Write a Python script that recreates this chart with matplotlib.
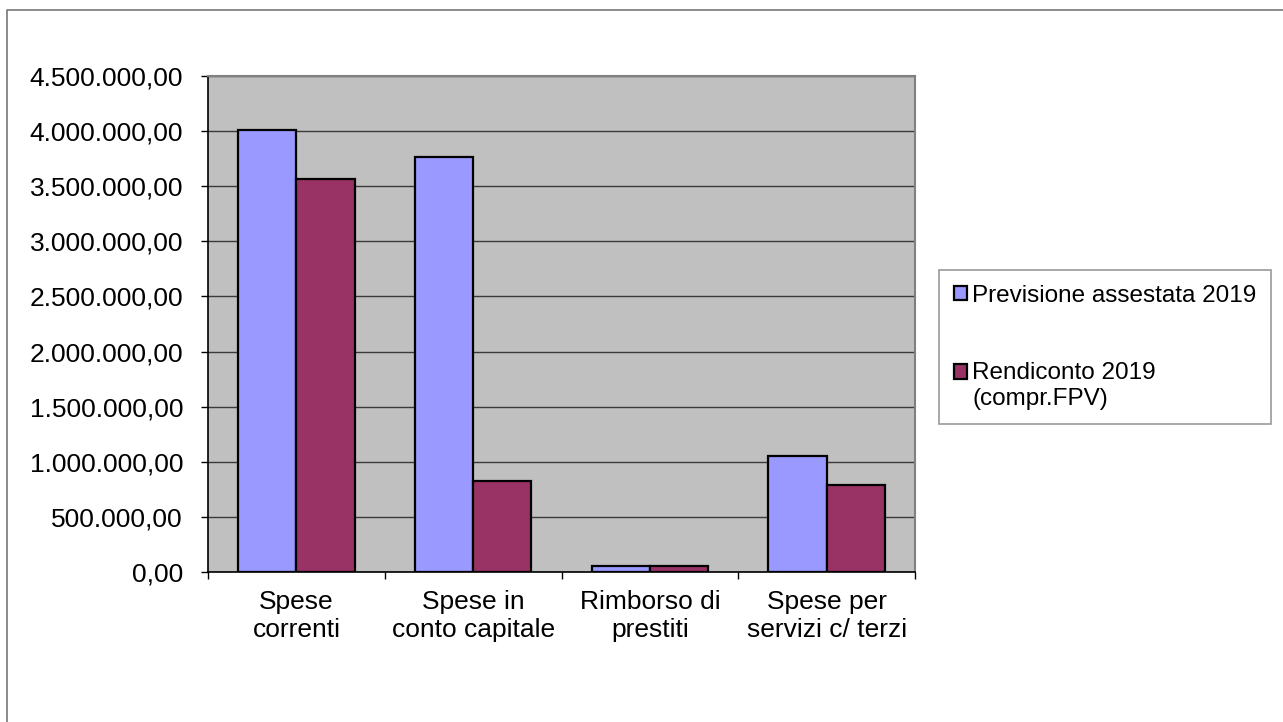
import matplotlib
matplotlib.use("Agg")
import matplotlib.pyplot as plt
import numpy as np
from matplotlib.legend_handler import HandlerPatch
from matplotlib.lines import Line2D
from matplotlib.patches import Rectangle
from matplotlib.ticker import FixedLocator, FuncFormatter, MultipleLocator

plt.rcParams["font.family"] = ["Liberation Sans", "DejaVu Sans"]

categories = ["Spese\ncorrenti", "Spese in\nconto capitale", "Rimborso di\nprestiti",
              "Spese per\nservizi c/ terzi"]
series_names = ["Previsione assestata 2019", "Rendiconto 2019\n(compr.FPV)"]
previsione = [4011000, 3763000, 58000, 1050000]
rendiconto = [3563000, 823000, 56000, 793000]

colors = ["#9999FF", "#993366"]

W, H = 1283, 722
fig = plt.figure(figsize=(W / 100, H / 100), dpi=100)
fig.set_facecolor("white")
ax = fig.add_axes([208 / W, 1 - 572 / H, (915 - 208) / W, (572 - 76) / H])
ax.set_facecolor("#C0C0C0")

x = np.arange(len(categories))
width = 0.33
bars = []
for i, vals in enumerate([previsione, rendiconto]):
    b = ax.bar(x + (i - 0.5) * width, vals, width, color=colors[i],
               edgecolor="black", linewidth=1.6, label=series_names[i], zorder=3)
    bars.append(b)

ax.set_xlim(-0.5, len(categories) - 0.5)
ax.set_ylim(0, 4500000)

# y axis
ax.yaxis.set_major_locator(MultipleLocator(500000))
ax.yaxis.set_major_formatter(FuncFormatter(
    lambda v, _: f"{v:,.2f}".replace(",", "X").replace(".", ",").replace("X", ".")))
ax.grid(axis="y", color="#3a3a3a", linewidth=1.0, zorder=1)
ax.tick_params(axis="y", length=5, width=1, color="black", pad=13, labelsize=19)

# x axis: ticks at boundaries, labels at centers
ax.xaxis.set_major_locator(FixedLocator(np.arange(len(categories) + 1) - 0.5))
ax.xaxis.set_major_formatter(FuncFormatter(lambda v, _: ""))
ax.xaxis.set_minor_locator(FixedLocator(x))
ax.set_xticklabels(categories, minor=True)
ax.tick_params(axis="x", which="major", length=5, width=1, color="black")
ax.tick_params(axis="x", which="minor", length=0, pad=13, labelsize=19)

for s in ["top", "right"]:
    ax.spines[s].set_color("#808080")
    ax.spines[s].set_linewidth(1.5)
for s in ["left", "bottom"]:
    ax.spines[s].set_color("black")
    ax.spines[s].set_linewidth(1.2)


# legend marker next to the first line of a two-line label
def top_line_box(legend, orig_handle, xdescent, ydescent, width, height, fontsize):
    return Rectangle((-xdescent, -ydescent + 0.62 * fontsize), width, height)


handles = [b.patches[0] for b in bars]
leg = fig.legend(handles=handles, labels=series_names, loc="upper left",
                 bbox_to_anchor=(939 / W, 1 - 270 / H), borderaxespad=0,
                 fontsize=17.5, frameon=True, fancybox=False, edgecolor="#808080",
                 handlelength=0.57, handleheight=0.57, handletextpad=0.2,
                 labelspacing=2.3, borderpad=0.6,
                 handler_map={handles[1]: HandlerPatch(patch_func=top_line_box)})
leg.get_frame().set_linewidth(1.2)

# outer chart frame
fig.add_artist(Line2D([7 / W, 7 / W, 1], [0, 1 - 10 / H, 1 - 10 / H],
                      transform=fig.transFigure, color="#777777", linewidth=1.2))

fig.savefig("out.png", dpi=100)
